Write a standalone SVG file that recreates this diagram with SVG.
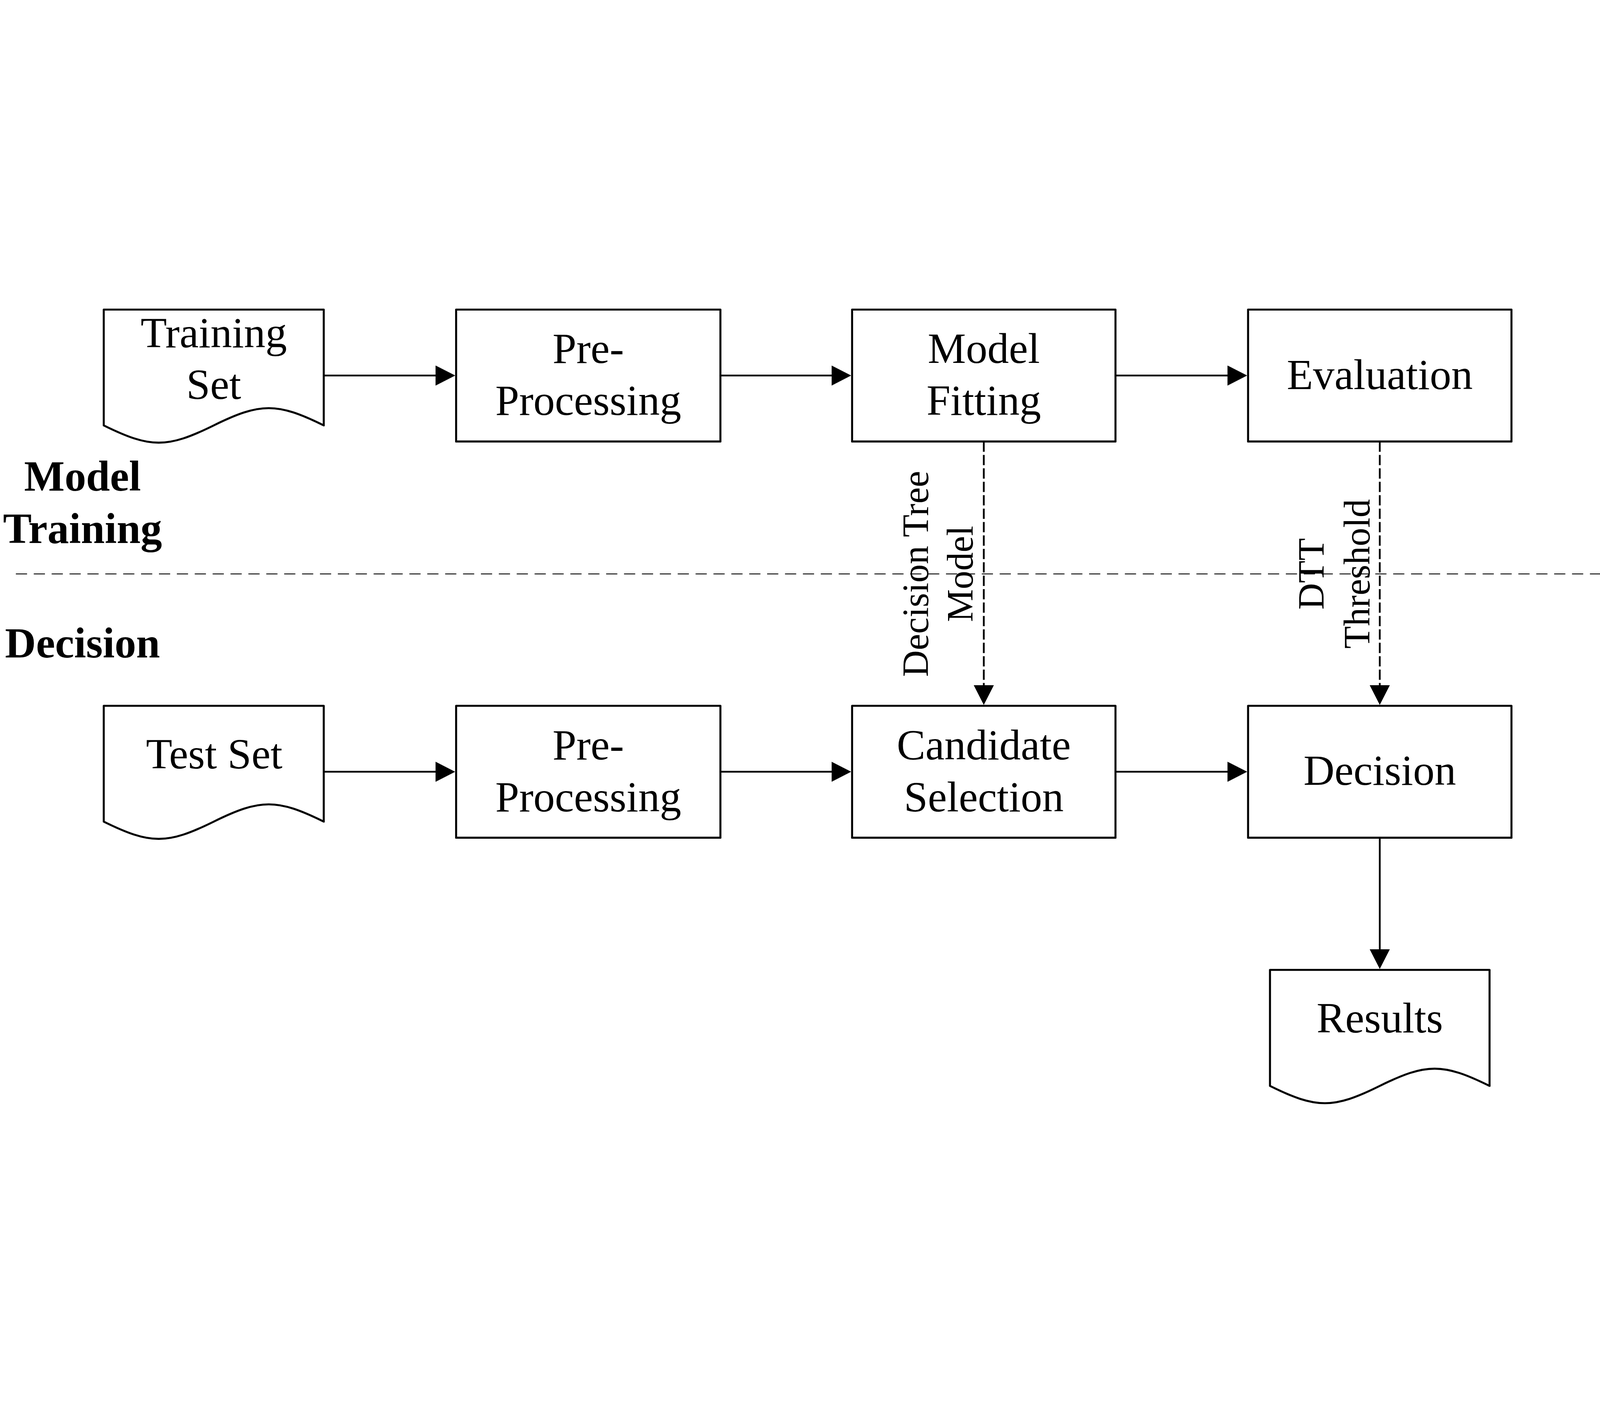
<svg xmlns="http://www.w3.org/2000/svg" width="7156" height="3594" viewBox="0 0 7156 3594" style="max-width:100vw;max-height:100vh">
<style>
.box{fill:#fff;stroke:#000;stroke-width:9;stroke-linejoin:round}
.t{font-family:"Liberation Serif","Times New Roman",serif;font-size:192px;fill:#000;text-anchor:middle}
.lbl{font-family:"Liberation Serif","Times New Roman",serif;font-size:165px;fill:#000;text-anchor:middle}
.sec{font-family:"Liberation Serif","Times New Roman",serif;font-size:192px;font-weight:bold;fill:#000;text-anchor:middle}
.c{fill:none;stroke:#000;stroke-width:8}
.d{stroke-dasharray:46 14}
.sep{fill:none;stroke:#000;stroke-width:4;stroke-dasharray:50 30}
</style>
<defs>
<marker id="arr" viewBox="0 0 88 90" refX="8" refY="45" markerWidth="88" markerHeight="90" markerUnits="userSpaceOnUse" orient="auto">
<path d="M0,0 L88,45 L0,90 Z" fill="#000" stroke="none"/>
</marker>
</defs>
<rect width="7156" height="3594" fill="#fff"/>
<g id="section-labels">
<text class="sec" x="369" y="851">Model</text>
<text class="sec" x="369" y="1086">Training</text>
<text class="sec" x="369" y="1597">Decision</text>
</g>
<line id="separator" class="sep" x1="71" y1="1224" x2="7156" y2="1224"/>
<g id="training-set">
<path class="box" d="M464,42 H1448 V560 C1239,457 1165,457 956,560 C747,663 673,663 464,560 Z"/>
<text class="t" x="956" y="210">Training</text>
<text class="t" x="956" y="442">Set</text>
</g>
<g id="pre-processing-1">
<rect class="box" x="2040" y="42" width="1182" height="590"/>
<text class="t" x="2631" y="281">Pre-</text>
<text class="t" x="2631" y="513">Processing</text>
</g>
<g id="model-fitting">
<rect class="box" x="3811" y="42" width="1178" height="590"/>
<text class="t" x="4400" y="281">Model</text>
<text class="t" x="4400" y="513">Fitting</text>
</g>
<g id="evaluation">
<rect class="box" x="5582" y="42" width="1178" height="590"/>
<text class="t" x="6171" y="397">Evaluation</text>
</g>
<g id="test-set">
<path class="box" d="M464,1814 H1448 V2332 C1239,2229 1165,2229 956,2332 C747,2435 673,2435 464,2332 Z"/>
<text class="t" x="958" y="2094">Test Set</text>
</g>
<g id="pre-processing-2">
<rect class="box" x="2040" y="1814" width="1182" height="590"/>
<text class="t" x="2631" y="2054">Pre-</text>
<text class="t" x="2631" y="2286">Processing</text>
</g>
<g id="candidate-selection">
<rect class="box" x="3811" y="1814" width="1178" height="590"/>
<text class="t" x="4400" y="2054">Candidate</text>
<text class="t" x="4400" y="2286">Selection</text>
</g>
<g id="decision">
<rect class="box" x="5582" y="1814" width="1178" height="590"/>
<text class="t" x="6171" y="2167">Decision</text>
</g>
<g id="results">
<path class="box" d="M5680,2995 H6662 V3514 C6454,3411 6379,3411 6171,3514 C5963,3617 5888,3617 5680,3514 Z"/>
<text class="t" x="6171" y="3275">Results</text>
</g>
<g id="connectors">
<line class="c" x1="1448" y1="337" x2="1956" y2="337" marker-end="url(#arr)"/>
<line class="c" x1="3222" y1="337" x2="3727" y2="337" marker-end="url(#arr)"/>
<line class="c" x1="4989" y1="337" x2="5498" y2="337" marker-end="url(#arr)"/>
<line class="c" x1="1448" y1="2109" x2="1956" y2="2109" marker-end="url(#arr)"/>
<line class="c" x1="3222" y1="2109" x2="3727" y2="2109" marker-end="url(#arr)"/>
<line class="c" x1="4989" y1="2109" x2="5498" y2="2109" marker-end="url(#arr)"/>
<line class="c d" x1="4400" y1="632" x2="4400" y2="1730" marker-end="url(#arr)"/>
<line class="c d" x1="6171" y1="632" x2="6171" y2="1730" marker-end="url(#arr)"/>
<line class="c" x1="6171" y1="2404" x2="6171" y2="2911" marker-end="url(#arr)"/>
<text class="lbl" transform="translate(4151,1224) rotate(-90)">Decision Tree</text>
<text class="lbl" transform="translate(4350,1224) rotate(-90)">Model</text>
<text class="lbl" transform="translate(5921,1224) rotate(-90)">DTT</text>
<text class="lbl" transform="translate(6125,1224) rotate(-90)">Threshold</text>
</g>
</svg>
